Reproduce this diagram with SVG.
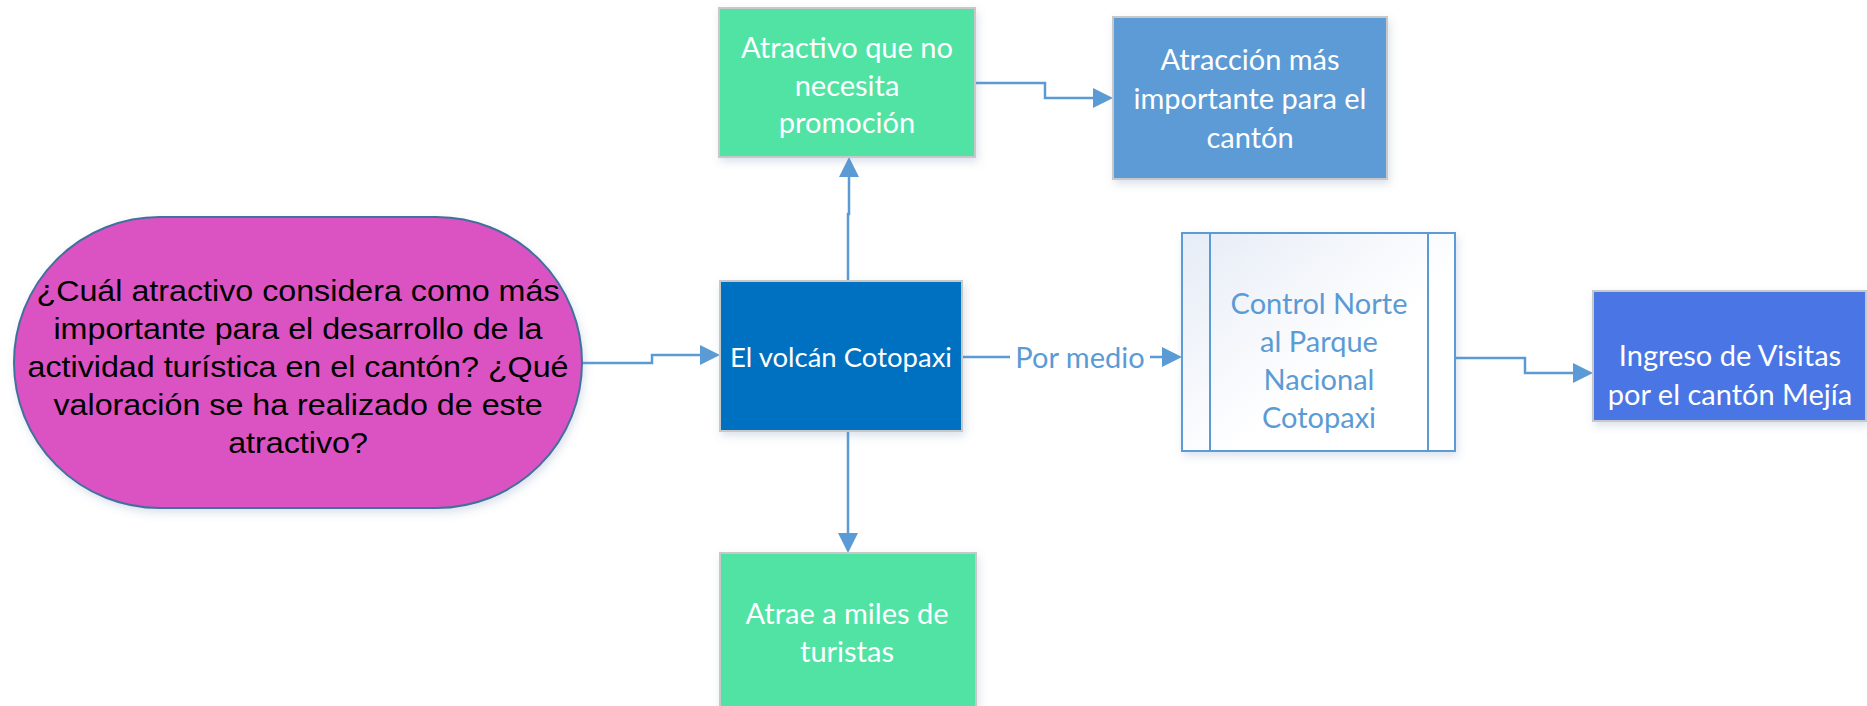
<svg xmlns="http://www.w3.org/2000/svg" width="1867" height="706" viewBox="0 0 1867 706">
<style>
.cal{font-family:Lato,"Open Sans","Noto Sans",sans-serif;font-size:29px;text-anchor:middle;fill:#ffffff}
.ari{font-family:"Liberation Sans",Arial,sans-serif;font-size:30px;text-anchor:middle;fill:#000000}
.blue{fill:#5B9BD5}
.conn{fill:none;stroke:#5B9BD5;stroke-width:2.5}
.box{stroke:#C8C8C8;stroke-width:2;filter:url(#sh)}
</style>
<defs>
<filter id="sh" x="-10%" y="-10%" width="125%" height="125%">
<feDropShadow dx="2" dy="4" stdDeviation="4" flood-color="#5B7BA8" flood-opacity="0.22"/>
</filter>
<linearGradient id="pg" x1="0" y1="0" x2="1" y2="1">
<stop offset="0" stop-color="#E6ECF6"/>
<stop offset="0.6" stop-color="#FFFFFF"/>
<stop offset="1" stop-color="#FFFFFF"/>
</linearGradient>
<marker id="arw" viewBox="0 0 20 20" refX="10" refY="10" markerWidth="20" markerHeight="22" markerUnits="userSpaceOnUse" orient="auto">
<path d="M0,0 L20,10 L0,20 z" fill="#5B9BD5"/>
</marker>
</defs>

<g id="connectors">
<path class="conn" d="M582,363 H652 V355 H710" marker-end="url(#arw)"/>
<path class="conn" d="M848,281 V214 H849 V167" marker-end="url(#arw)"/>
<path class="conn" d="M975,83 H1045 V98 H1103" marker-end="url(#arw)"/>
<path class="conn" d="M962,357 H1172" marker-end="url(#arw)"/>
<path class="conn" d="M1455,358 H1525 V373 H1583" marker-end="url(#arw)"/>
<path class="conn" d="M848,431 V543" marker-end="url(#arw)"/>
<rect x="1010" y="338" width="140" height="36" fill="#FFFFFF"/>
<text class="cal blue" x="1080" y="368">Por medio</text>
</g>

<g id="n-pregunta">
<rect x="14" y="217" width="568" height="291" rx="145.5" ry="145.5" fill="#DB52C2" stroke="#41719C" stroke-width="2" filter="url(#sh)"/>
<g transform="translate(298 0) scale(1.075 1)">
<text class="ari" x="0" y="301">¿Cuál atractivo considera como más</text>
<text class="ari" x="0" y="339">importante para el desarrollo de la</text>
<text class="ari" x="0" y="377">actividad turística en el cantón? ¿Qué</text>
<text class="ari" x="0" y="415">valoración se ha realizado de este</text>
<text class="ari" x="0" y="453">atractivo?</text>
</g>
</g>

<g id="n-atractivo">
<rect class="box" x="719" y="8" width="256" height="149" fill="#51E3A4"/>
<text class="cal" x="847" y="58">Atractivo que no</text>
<text class="cal" x="847" y="96">necesita</text>
<text class="cal" x="847" y="133">promoción</text>
</g>

<g id="n-atraccion">
<rect class="box" x="1113" y="17" width="274" height="162" fill="#5B9BD5"/>
<text class="cal" x="1250" y="70">Atracción más</text>
<text class="cal" x="1250" y="109">importante para el</text>
<text class="cal" x="1250" y="148">cantón</text>
</g>

<g id="n-volcan">
<rect class="box" x="720" y="281" width="242" height="150" fill="#0070C0"/>
<text class="cal" x="841" y="367" style="font-size:27.5px">El volcán Cotopaxi</text>
</g>

<g id="n-control">
<rect x="1182" y="233" width="273" height="218" fill="url(#pg)" stroke="#5B9BD5" stroke-width="2" filter="url(#sh)"/>
<line x1="1210" y1="233" x2="1210" y2="451" stroke="#5B9BD5" stroke-width="2"/>
<line x1="1428" y1="233" x2="1428" y2="451" stroke="#5B9BD5" stroke-width="2"/>
<text class="cal blue" x="1319" y="314">Control Norte</text>
<text class="cal blue" x="1319" y="352">al Parque</text>
<text class="cal blue" x="1319" y="390">Nacional</text>
<text class="cal blue" x="1319" y="428">Cotopaxi</text>
</g>

<g id="n-ingreso">
<rect class="box" x="1593" y="291" width="273" height="130" fill="#4A76E4"/>
<text class="cal" x="1730" y="366">Ingreso de Visitas</text>
<text class="cal" x="1730" y="405">por el cantón Mejía</text>
</g>

<g id="n-atrae">
<rect class="box" x="720" y="553" width="256" height="160" fill="#51E3A4"/>
<text class="cal" x="847" y="624">Atrae a miles de</text>
<text class="cal" x="847" y="662">turistas</text>
</g>
</svg>
